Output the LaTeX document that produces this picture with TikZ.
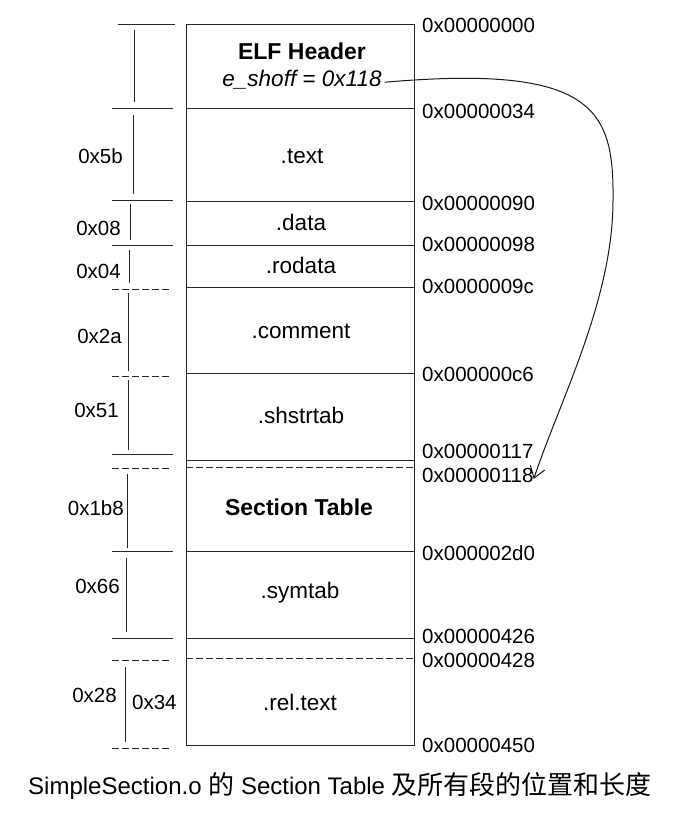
\documentclass[tikz,border=0pt]{standalone}
\usepackage{fontspec}
\setmainfont{Liberation Sans}
\newfontfamily\cjk{Noto Sans CJK SC}
\usetikzlibrary{arrows.meta}

\begin{document}
\begin{tikzpicture}[x=1pt,y=-1pt,
  ink/.style={draw=black!85,line width=0.9pt},
  brk/.style={ink,dash pattern=on 7pt off 3pt},
  addr/.style={anchor=base west,inner sep=0pt,font=\fontsize{20.5}{24}\selectfont},
  size/.style={anchor=base east,inner sep=0pt,font=\fontsize{20.5}{24}\selectfont},
  sec/.style={anchor=base,inner sep=0pt,font=\fontsize{22.5}{26}\selectfont},
  secb/.style={anchor=base,inner sep=0pt,font=\fontsize{23}{26}\bfseries\selectfont},
  ptr/.style={draw=black!90,line width=1pt,-{Straight Barb[length=11pt,width=15pt,line width=1pt]}},
]
\useasboundingbox (0,0) rectangle (686,824);

% file body: outer frame and section boundaries
\draw[ink] (186,24) rectangle (414,745);
\foreach \y in {108,201,245,287,373,460,551,638}
  \draw[ink] (186,\y) -- (414,\y);
\draw[brk] (186,467) -- (414,467);
\draw[brk] (186,658) -- (414,658);

% section names
\node[secb] (elf)    at (302,60)  {ELF Header};
\node[sec]  (shoff)  at (302,87)  {\itshape e\_shoff = 0x118};
\node[sec]  (text)   at (302,163) {.text};
\node[sec]  (data)   at (301,230) {.data};
\node[sec]  (rodata) at (301,273) {.rodata};
\node[sec]  (comm)   at (301,338) {.comment};
\node[sec]  (shstr)  at (301,423) {.shstrtab};
\node[secb] (stab)   at (299,515) {Section Table};
\node[sec]  (symtab) at (300,598) {.symtab};
\node[sec]  (rel)    at (300,710) {.rel.text};

% file offsets on the right
\node[addr] (a000) at (422,33)  {0x00000000};
\node[addr] (a034) at (422,118) {0x00000034};
\node[addr] (a090) at (422,210) {0x00000090};
\node[addr] (a098) at (422,251) {0x00000098};
\node[addr] (a09c) at (422,293) {0x0000009c};
\node[addr] (a0c6) at (422,381) {0x000000c6};
\node[addr] (a117) at (422,458) {0x00000117};
\node[addr] (a118) at (422,482) {0x00000118};
\node[addr] (a2d0) at (422,560) {0x000002d0};
\node[addr] (a426) at (422,643) {0x00000426};
\node[addr] (a428) at (422,667) {0x00000428};
\node[addr] (a450) at (422,752) {0x00000450};

% size ticks on the left
\draw[ink] (118,24) -- (175,24);
\foreach \y in {108,200,245,454,551,638}
  \draw[ink] (112,\y) -- (173,\y);
\foreach \y in {289,376,468,660,748}
  \draw[brk] (112,\y) -- (172,\y);

% size dimension lines
\draw[ink] (134,30) -- (134,102);
\draw[ink] (133,115) -- (133,194);
\draw[ink] (130,204) -- (130,240);
\draw[ink] (129,250) -- (129,283);
\draw[ink] (128,293) -- (128,371);
\draw[ink] (128,380) -- (128,450);
\draw[ink] (127,474) -- (127,548);
\draw[ink] (126,558) -- (126,632);
\draw[ink] (125,667) -- (125,742);

% sizes
\node[size] (s5b)  at (123,163) {0x5b};
\node[size] (s08)  at (121,235) {0x08};
\node[size] (s04)  at (121,278) {0x04};
\node[size] (s2a)  at (122,343) {0x2a};
\node[size] (s51)  at (119,417) {0x51};
\node[size] (s1b8) at (124,515) {0x1b8};
\node[size] (s66)  at (120,593) {0x66};
\node[size] (s28)  at (117,702) {0x28};
\node[addr] (s34)  at (132,709) {0x34};

% e_shoff points at the section header table
\draw[ptr] ([xshift=3pt,yshift=-2pt]shoff.east)
  .. controls (595,64) and (614,110) .. (613,200)
  .. controls (613,300) and (560,400) .. ([yshift=-4pt]a118.east);

% caption
\node[inner sep=0pt,font=\fontsize{24}{28}\selectfont] (cap) at (340,786)
  {SimpleSection.o {\cjk\fontsize{26}{28}\selectfont 的} Section Table {\cjk\fontsize{26}{28}\selectfont 及所有段的位置和长度}};
\end{tikzpicture}
\end{document}
